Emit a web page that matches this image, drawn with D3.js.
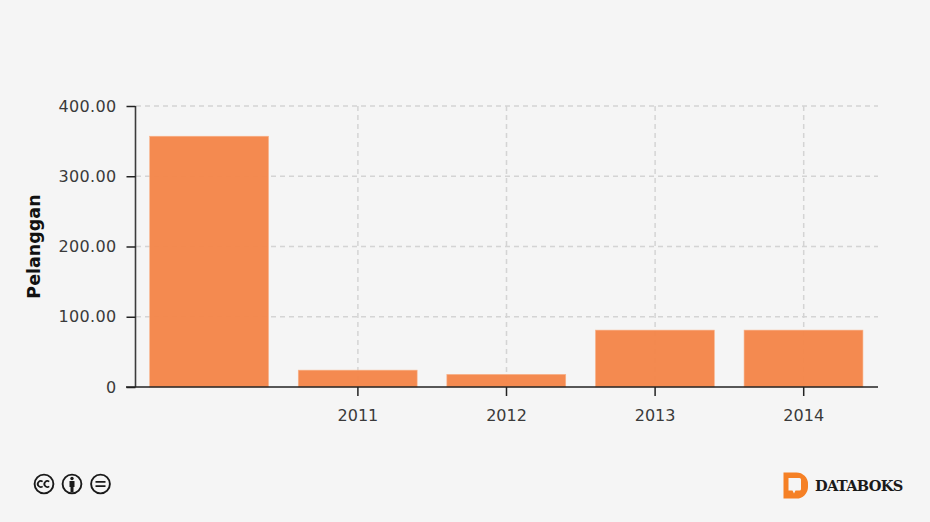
<!DOCTYPE html>
<html><head><meta charset="utf-8">
<script src="https://cdn.jsdelivr.net/npm/d3@7/dist/d3.min.js"></script>
<style>html,body{margin:0;padding:0;background:#f5f5f5}svg{display:block}</style>
</head><body><svg id="c" width="930" height="522"></svg>
<script>
const categories = ["", "2011", "2012", "2013", "2014"];
const values = [357, 24, 18, 81, 81];
const yTicks = [0, 100, 200, 300, 400];
const yLabels = ["0", "100.00", "200.00", "300.00", "400.00"];
const yTitle = "Pelanggan";
const brand = "DATABOKS";

const svg = d3.select("#c");
const font = "'DejaVu Sans', Verdana, sans-serif";
const x = d3.scaleBand().domain(categories).range([135, 878]).paddingInner(0.2).paddingOuter(0.1);
const y = d3.scaleLinear().domain([0, 400]).range([387, 106]);

// grid
svg.append("g").selectAll("line").data(yTicks.slice(1)).join("line")
  .attr("x1", 136).attr("x2", 878).attr("y1", d => y(d)).attr("y2", d => y(d))
  .attr("stroke", "#d4d4d4").attr("stroke-width", 1.5).attr("stroke-dasharray", "5,4");
svg.append("g").selectAll("line").data(categories.filter(c => c)).join("line")
  .attr("x1", d => x(d)+x.bandwidth()/2).attr("x2", d => x(d)+x.bandwidth()/2)
  .attr("y1", 106).attr("y2", 387)
  .attr("stroke", "#d4d4d4").attr("stroke-width", 1.5).attr("stroke-dasharray", "5,4");

// bars
svg.append("g").selectAll("rect").data(values).join("rect")
  .attr("x", (d,i) => x(categories[i])-0.2).attr("width", x.bandwidth())
  .attr("y", d => y(d)).attr("height", d => y(0)-y(d))
  .attr("fill", "#f4864a").attr("fill-opacity", 0.97)
  .attr("stroke", "#f9b48c").attr("stroke-width", 0.6);

// axes
const yAxis = d3.axisLeft(y).tickValues(yTicks).tickSize(9).tickPadding(10)
  .tickFormat((d,i) => yLabels[i]);
const gy = svg.append("g").attr("transform", "translate(135.5,0)").call(yAxis);
gy.select(".domain").attr("d", "M0,106V387").attr("stroke", "#3c3c3c").attr("stroke-width", 1.6);
const xAxis = d3.axisBottom(x).tickValues(categories.filter(c => c)).tickSize(9).tickPadding(14);
const gx = svg.append("g").attr("transform", "translate(0,387)").call(xAxis);
gx.select(".domain").attr("d", "M126,0H878").attr("stroke", "#222").attr("stroke-width", 1.6);
[gx, gy].forEach(g => {
  g.selectAll("text").attr("font-family", font).attr("font-size", 16).attr("fill", "#3a3a3a");
  g.selectAll(".tick line").attr("stroke", "#222").attr("stroke-width", 1.5);
});
gy.selectAll("text").attr("letter-spacing", 0.35);

svg.append("text").attr("transform", "translate(40,246.5) rotate(-90)")
  .attr("text-anchor", "middle").attr("font-family", font).attr("font-weight", "bold")
  .attr("font-size", 17.5).attr("fill", "#111").text(yTitle);

// licence icons
const cc = svg.append("g").attr("fill", "none").attr("stroke", "#1a1a1a");
[44, 72, 100.5].forEach(cx => cc.append("circle").attr("cx", cx).attr("cy", 484).attr("r", 9.4).attr("stroke-width", 1.9));
cc.append("path").attr("stroke-width", 1.8).attr("d", "M42.6,481.6a3,3 0 1 0 0,4.8M49.2,481.6a3,3 0 1 0 0,4.8");
cc.append("circle").attr("cx", 72).attr("cy", 478.5).attr("r", 1.7).attr("fill", "#1a1a1a").attr("stroke", "none");
cc.append("path").attr("fill", "#1a1a1a").attr("stroke", "none")
  .attr("d", "M69.5,481h5v6h-1v5.5h-3v-5.5h-1z");
cc.append("path").attr("stroke-width", 1.8).attr("d", "M95.5,481.8h10M95.5,486.2h10");

// brand
svg.append("path").attr("fill", "#f58025").attr("fill-rule", "evenodd")
  .attr("d", "M783.5,472.5h13a11.5,11.5 0 0 1 11.5,11.5v3a11.5,11.5 0 0 1 -11.5,11.5h-13z M788.5,478v12.5h4l1.5,3l1.5,-3h4a1.5,1.5 0 0 0 1.5,-1.5v-9.5a1.5,1.5 0 0 0 -1.5,-1.5z");
svg.append("text").attr("x", 815).attr("y", 491).attr("font-family", "'DejaVu Serif', serif")
  .attr("font-weight", "bold").attr("font-size", 14.6).attr("letter-spacing", -0.7).attr("fill", "#1a1a1a").text(brand);
</script></body></html>
